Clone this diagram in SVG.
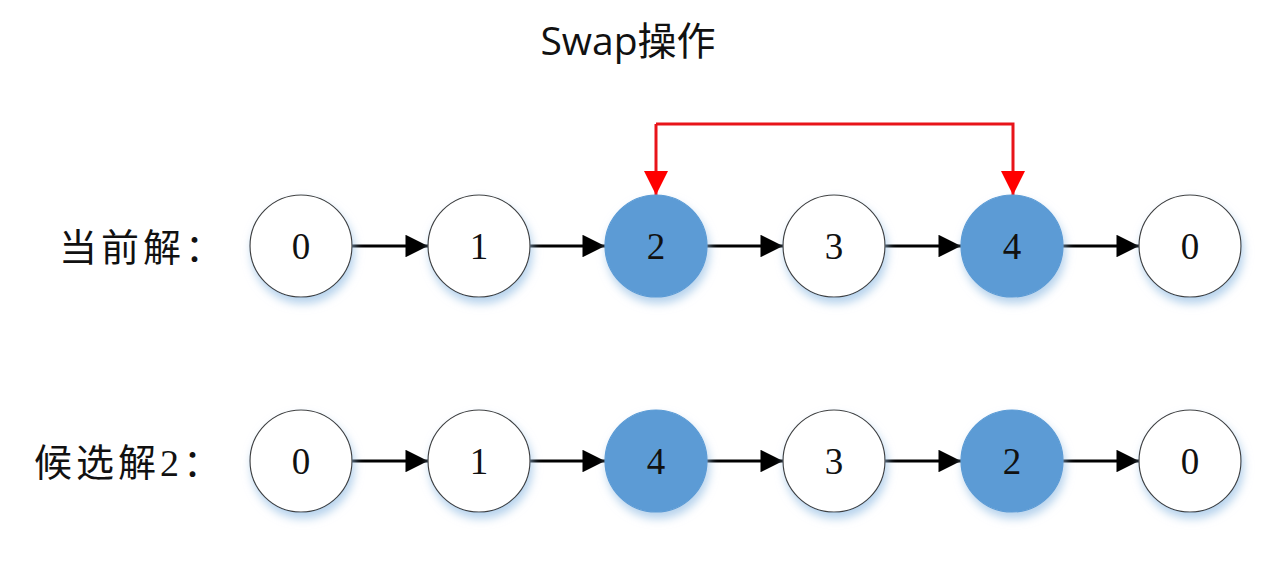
<svg xmlns="http://www.w3.org/2000/svg" width="1280" height="566" viewBox="0 0 1280 566">
<defs>
<filter id="sh" x="-30%" y="-30%" width="160%" height="170%">
<feDropShadow dx="2" dy="6" stdDeviation="5" flood-color="#9dc3e6" flood-opacity="0.75"/>
</filter>
<marker id="ab" viewBox="0 0 10 10" refX="10" refY="5" markerWidth="8.5" markerHeight="7.5" markerUnits="strokeWidth" orient="auto">
<path d="M0,0 L10,5 L0,10 z" fill="#000"/>
</marker>
<marker id="ar" viewBox="0 0 10 10" refX="10" refY="5" markerWidth="8.5" markerHeight="8" markerUnits="strokeWidth" orient="auto">
<path d="M0,0 L10,5 L0,10 z" fill="#ff0000"/>
</marker>
</defs>
<style>
.w{fill:#fff;stroke:#404040;stroke-width:1.2;filter:url(#sh)}
.b{fill:#5b9bd5;stroke:#5b9bd5;stroke-width:1.2;filter:url(#sh)}
.n{font-family:"Liberation Serif","Noto Sans CJK SC",serif;font-size:37px;fill:#111;text-anchor:middle}
.lbl{font-family:"Liberation Serif","Noto Sans CJK SC",serif;font-size:38px;fill:#111;letter-spacing:4px}
.ttl{font-family:"Open Sans","Noto Sans CJK SC",sans-serif;font-size:39px;fill:#111;text-anchor:middle}
.e{stroke:#000;stroke-width:3;fill:none;marker-end:url(#ab)}
.r{stroke:#e8141a;stroke-width:3;fill:none;marker-end:url(#ar)}
</style>
<rect width="1280" height="566" fill="#fff"/>
<text class="ttl" x="628" y="55">Swap操作</text>
<text class="lbl" x="59" y="261">当前解：</text>
<text class="lbl" x="34" y="476">候选解2：</text>
<g id="connectors">
<line class="e" x1="352" y1="246" x2="428" y2="246"/>
<line class="e" x1="530" y1="246" x2="605" y2="246"/>
<line class="e" x1="707" y1="246" x2="783" y2="246"/>
<line class="e" x1="885" y1="246" x2="961" y2="246"/>
<line class="e" x1="1063" y1="246" x2="1139" y2="246"/>
<line class="e" x1="352" y1="461" x2="428" y2="461"/>
<line class="e" x1="530" y1="461" x2="605" y2="461"/>
<line class="e" x1="707" y1="461" x2="783" y2="461"/>
<line class="e" x1="885" y1="461" x2="961" y2="461"/>
<line class="e" x1="1063" y1="461" x2="1139" y2="461"/>
<path class="r" d="M656,124 H1013 V195"/>
<path class="r" d="M656,124 V195"/>
</g>
<g id="a0"><circle class="w" cx="301" cy="246" r="51"/><text class="n" x="301" y="259">0</text></g>
<g id="a1"><circle class="w" cx="479" cy="246" r="51"/><text class="n" x="479" y="259">1</text></g>
<g id="a2"><circle class="b" cx="656" cy="246" r="51"/><text class="n" x="656" y="259">2</text></g>
<g id="a3"><circle class="w" cx="834" cy="246" r="51"/><text class="n" x="834" y="259">3</text></g>
<g id="a4"><circle class="b" cx="1012" cy="246" r="51"/><text class="n" x="1012" y="259">4</text></g>
<g id="a5"><circle class="w" cx="1190" cy="246" r="51"/><text class="n" x="1190" y="259">0</text></g>
<g id="b0"><circle class="w" cx="301" cy="461" r="51"/><text class="n" x="301" y="474">0</text></g>
<g id="b1"><circle class="w" cx="479" cy="461" r="51"/><text class="n" x="479" y="474">1</text></g>
<g id="b2"><circle class="b" cx="656" cy="461" r="51"/><text class="n" x="656" y="474">4</text></g>
<g id="b3"><circle class="w" cx="834" cy="461" r="51"/><text class="n" x="834" y="474">3</text></g>
<g id="b4"><circle class="b" cx="1012" cy="461" r="51"/><text class="n" x="1012" y="474">2</text></g>
<g id="b5"><circle class="w" cx="1190" cy="461" r="51"/><text class="n" x="1190" y="474">0</text></g>
</svg>
